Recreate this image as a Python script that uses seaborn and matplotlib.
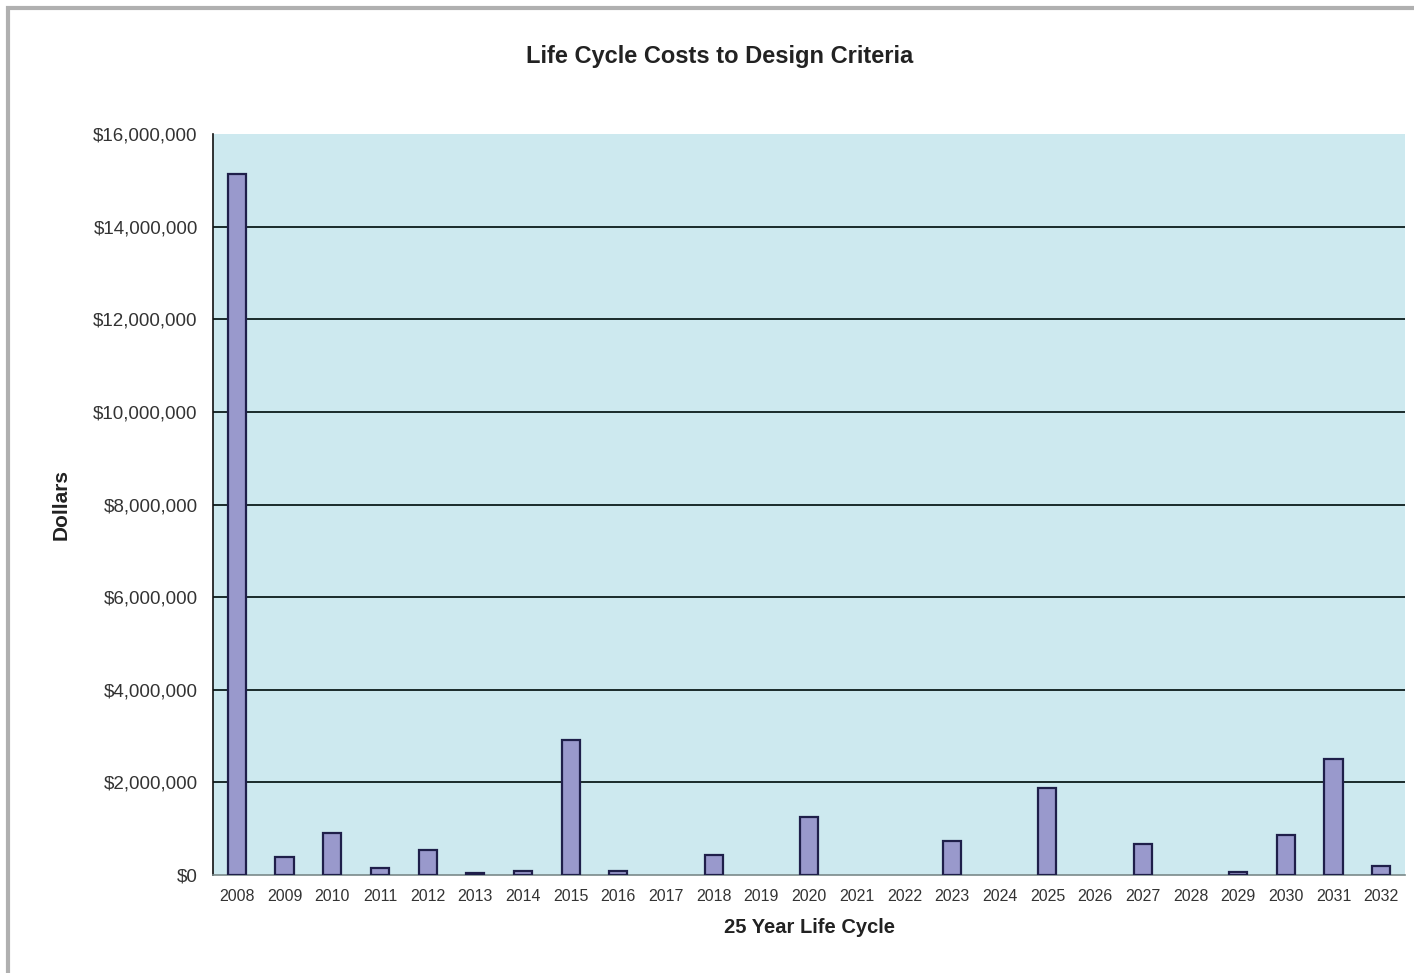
import pandas as pd
import matplotlib.pyplot as plt
import matplotlib.ticker as mticker
from matplotlib.patches import Rectangle
import seaborn as sns

# Life cycle cost per year (dollars)
years = [str(y) for y in range(2008, 2033)]
costs = [15140000, 390000, 910000, 150000, 540000, 40000, 90000, 2920000,
         90000, 0, 430000, 0, 1250000, 0, 0, 730000, 0, 1880000, 0, 670000,
         0, 60000, 860000, 2510000, 190000]
yticks = list(range(0, 16000001, 2000000))

df = pd.DataFrame({"Year": years, "Cost": costs})

sns.set_style("white")
plt.rcParams['font.family'] = ['Liberation Sans', 'DejaVu Sans']

fig = plt.figure(figsize=(14.14, 9.73), dpi=100)
# grey frame round the chart area
fig.patches.append(Rectangle((0.006, -0.01), 1.0, 1.002, transform=fig.transFigure,
                             fill=False, edgecolor="#b0b0b0", linewidth=3))
ax = fig.add_axes([213 / 1414, 1 - 875 / 973, (1405 - 213) / 1414, (875 - 134) / 973])
ax.set_facecolor("#cde9ef")

sns.barplot(data=df, x="Year", y="Cost", color="#9999cc", edgecolor="#1f1f4a",
            linewidth=1.6, width=0.38, saturation=1, ax=ax, zorder=3)
# empty years show no bar at all
for p in ax.patches:
    if p.get_height() == 0:
        p.set_visible(False)

ax.set_ylim(0, 16000000)
ax.set_xlim(-0.5, len(years) - 0.5)
ax.set_yticks(yticks)
ax.yaxis.set_major_formatter(mticker.FuncFormatter(lambda v, p: f"${v:,.0f}"))
for v in yticks[1:-1]:
    ax.axhline(v, color="#1a2a2a", linewidth=1.4, zorder=1)

for s in ["top", "right"]:
    ax.spines[s].set_visible(False)
ax.spines["left"].set_color("#111111")
ax.spines["bottom"].set_color("#7a8a8a")
ax.spines["left"].set_linewidth(1.2)
ax.spines["bottom"].set_linewidth(1.2)

ax.tick_params(axis="y", direction="inout", length=10, width=1.2, labelsize=13.5,
               colors="#111111", labelcolor="#333333", pad=6)
ax.set_xticks(range(len(years)))
ax.set_xticklabels(years)
ax.tick_params(axis="x", length=0, labelsize=11.5, labelcolor="#333333", pad=10)
ax.set_xticks([i + 0.5 for i in range(len(years))], minor=True)
ax.tick_params(axis="x", which="minor", direction="out", length=4, width=1, color="#333333")

ax.set_xlabel("25 Year Life Cycle", fontsize=14.5, fontweight="bold", labelpad=10,
              color="#222222")
ax.set_ylabel("Dollars", fontsize=15, fontweight="bold", labelpad=16, color="#222222")
fig.text(0.509, 1 - 57 / 973, "Life Cycle Costs to Design Criteria", ha="center",
         va="center", fontsize=17, fontweight="bold", color="#222222")

fig.savefig("out.png", dpi=100)
